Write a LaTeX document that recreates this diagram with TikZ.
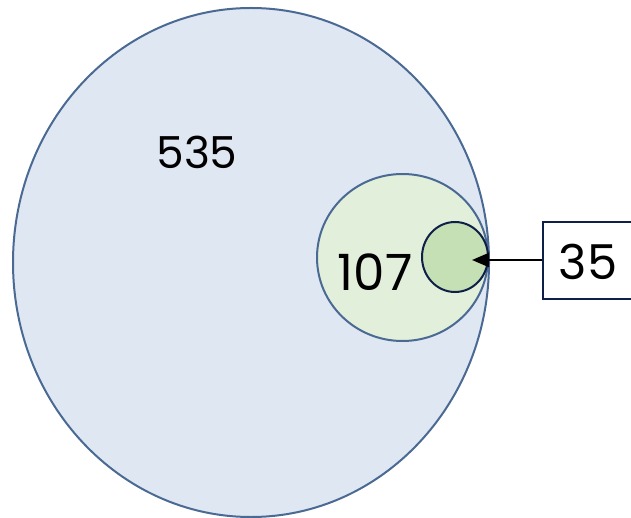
\documentclass[tikz,border=0pt]{standalone}
\usepackage{fontspec}
\setmainfont{Poppins}
\usetikzlibrary{shapes.geometric,arrows.meta}
\definecolor{bigfill}{HTML}{DFE7F3}
\definecolor{bluestroke}{HTML}{4A6A94}
\definecolor{midfill}{HTML}{E2EFDA}
\definecolor{smallfill}{HTML}{C5E0B4}
\definecolor{navy}{HTML}{0E1F48}
\begin{document}
\begin{tikzpicture}[x=1pt,y=-1pt,
  setbox/.style={draw=bluestroke,line width=2pt},
  numlabel/.style={inner sep=0pt,text=black}]
\useasboundingbox (0,0) rectangle (631,518);
\begin{scope}
\clip (0,0) rectangle (631,518);
\node[setbox,fill=bigfill,ellipse,minimum width=476pt,minimum height=509pt,inner sep=0pt] (big) at (251,262.5) {};
\end{scope}
\node[setbox,fill=midfill,ellipse,minimum width=171pt,minimum height=167pt,inner sep=0pt] (mid) at (402.5,257.5) {};
\node[draw=navy,line width=2pt,fill=smallfill,ellipse,minimum width=66pt,minimum height=70pt,inner sep=0pt] (small) at (455,257) {};
\begin{scope}
\clip (0,0) rectangle (631,518);
\node[draw=navy,line width=1.5pt,fill=white,minimum width=92pt,minimum height=77pt,inner sep=0pt,anchor=west] (box) at (542,260.5) {};
\end{scope}
\node[numlabel,font=\fontsize{44}{44}\selectfont] (t535) at (197,152) {535};
\node[numlabel,font=\fontsize{50}{50}\selectfont] (t107) at (375,272) {107};
\node[numlabel,font=\fontsize{48}{48}\selectfont] (t35) at (588,262) {35};
\coordinate (tip) at (472,260);
\draw[line width=2pt,-{Triangle[length=17pt,width=14pt]}] (box.west |- tip) -- (tip);
\end{tikzpicture}
\end{document}
